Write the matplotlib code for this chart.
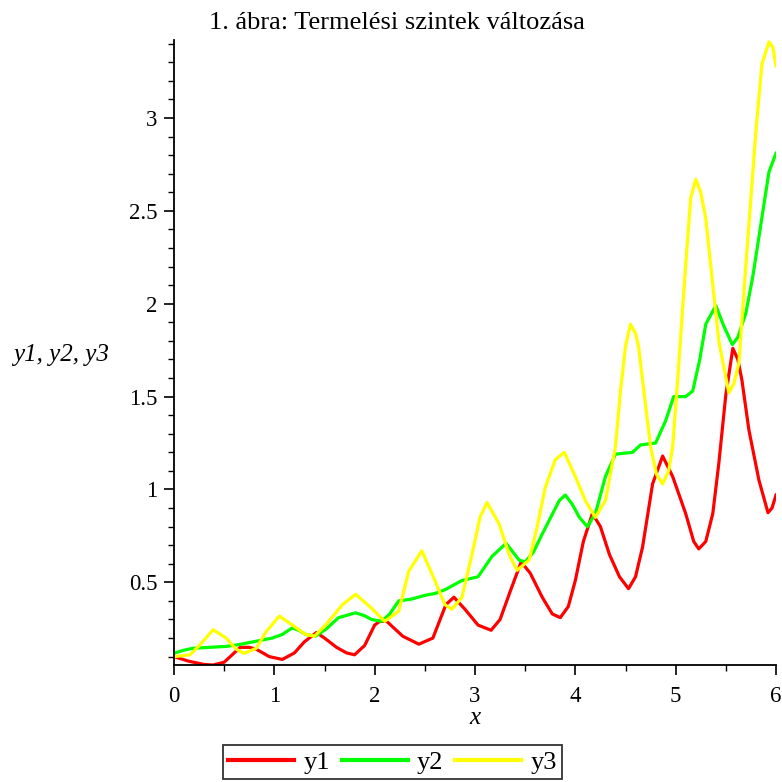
import numpy as np
import matplotlib
matplotlib.use("Agg")
import matplotlib.pyplot as plt
from matplotlib.ticker import MultipleLocator

# values
x_y1 = [0.00, 0.15, 0.30, 0.39, 0.50, 0.60, 0.66, 0.75, 0.82, 0.95, 1.08, 1.20, 1.30, 1.42,
        1.50, 1.62, 1.72, 1.80, 1.90, 2.00, 2.05, 2.12, 2.28, 2.44, 2.58, 2.71, 2.79, 2.90,
        3.03, 3.16, 3.25, 3.35, 3.46, 3.55, 3.67, 3.77, 3.85, 3.93, 4.00, 4.08, 4.17, 4.25,
        4.34, 4.44, 4.53, 4.60, 4.67, 4.77, 4.87, 4.97, 5.10, 5.18, 5.23, 5.30, 5.37, 5.43,
        5.50, 5.57, 5.62, 5.66, 5.73, 5.83, 5.92, 5.96, 6.00]
y1 = [0.10, 0.075, 0.058, 0.055, 0.07, 0.12, 0.15, 0.15, 0.14, 0.10, 0.085, 0.12, 0.18, 0.23,
      0.20, 0.15, 0.12, 0.11, 0.16, 0.27, 0.29, 0.29, 0.21, 0.167, 0.20, 0.38, 0.42, 0.355,
      0.27, 0.242, 0.30, 0.45, 0.61, 0.55, 0.42, 0.33, 0.31, 0.37, 0.51, 0.72, 0.87, 0.80,
      0.65, 0.53, 0.466, 0.53, 0.69, 1.03, 1.18, 1.07, 0.87, 0.72, 0.68, 0.72, 0.87, 1.14,
      1.51, 1.76, 1.70, 1.59, 1.32, 1.05, 0.875, 0.90, 0.97]

x_y2 = [0.00, 0.10, 0.19, 0.35, 0.52, 0.65, 0.79, 0.98, 1.08, 1.18, 1.25, 1.31, 1.41, 1.52,
        1.64, 1.81, 1.90, 1.97, 2.07, 2.15, 2.24, 2.37, 2.50, 2.60, 2.70, 2.87, 3.03, 3.17,
        3.31, 3.44, 3.50, 3.58, 3.67, 3.84, 3.90, 3.97, 4.04, 4.12, 4.20, 4.30, 4.40, 4.57,
        4.65, 4.80, 4.90, 4.98, 5.05, 5.10, 5.17, 5.24, 5.30, 5.40, 5.48, 5.565, 5.62, 5.70,
        5.77, 5.83, 5.93, 6.00]
y2 = [0.118, 0.135, 0.145, 0.15, 0.155, 0.165, 0.18, 0.20, 0.22, 0.255, 0.24, 0.22, 0.21, 0.25,
      0.31, 0.336, 0.32, 0.30, 0.29, 0.33, 0.40, 0.41, 0.43, 0.44, 0.46, 0.51, 0.53, 0.64,
      0.71, 0.62, 0.61, 0.66, 0.76, 0.94, 0.97, 0.92, 0.85, 0.80, 0.87, 1.07, 1.19, 1.20,
      1.24, 1.25, 1.37, 1.50, 1.50, 1.50, 1.53, 1.70, 1.89, 1.99, 1.88, 1.78, 1.82, 1.95,
      2.15, 2.36, 2.71, 2.81]

x_y3 = [0.00, 0.16, 0.26, 0.39, 0.52, 0.62, 0.70, 0.82, 0.92, 1.05, 1.18, 1.31, 1.40, 1.51,
        1.68, 1.81, 1.97, 2.10, 2.24, 2.34, 2.47, 2.60, 2.70, 2.77, 2.87, 2.97, 3.05, 3.12,
        3.24, 3.34, 3.42, 3.54, 3.62, 3.70, 3.80, 3.89, 4.00, 4.10, 4.20, 4.30, 4.40, 4.45,
        4.50, 4.55, 4.60, 4.63, 4.67, 4.75, 4.81, 4.87, 4.93, 4.97, 5.02, 5.10, 5.15, 5.20,
        5.25, 5.30, 5.37, 5.43, 5.53, 5.58, 5.63, 5.70, 5.80, 5.86, 5.93, 5.97, 6.00]
y3 = [0.10, 0.11, 0.164, 0.245, 0.20, 0.14, 0.118, 0.145, 0.236, 0.318, 0.27, 0.22, 0.21, 0.27,
      0.38, 0.436, 0.36, 0.29, 0.345, 0.56, 0.67, 0.51, 0.38, 0.355, 0.42, 0.65, 0.85, 0.93,
      0.815, 0.65, 0.565, 0.62, 0.80, 1.01, 1.16, 1.20, 1.07, 0.94, 0.85, 0.94, 1.23, 1.53,
      1.77, 1.89, 1.84, 1.77, 1.59, 1.23, 1.08, 1.03, 1.10, 1.23, 1.59, 2.21, 2.57, 2.67,
      2.60, 2.46, 2.10, 1.80, 1.52, 1.57, 1.68, 2.21, 2.93, 3.29, 3.41, 3.38, 3.28]

series = [(x_y1, y1, "y1", "#ff0000"),
          (x_y2, y2, "y2", "#00ff00"),
          (x_y3, y3, "y3", "#ffff00")]

title = "1. ábra: Termelési szintek változása"
serif = "Liberation Serif"

fig = plt.figure(figsize=(7.82, 7.82), dpi=100)
ax = fig.add_axes([174 / 782, 1 - 665 / 782, 602 / 782, 625 / 782])

for xs, ys, name, col in series:
    ax.plot(xs, ys, color=col, lw=2.3, label=name, solid_joinstyle="round")

ax.set_xlim(0, 6)
ax.set_ylim(0.055, 3.42)
for s in ["top", "right"]:
    ax.spines[s].set_visible(False)
for s in ["left", "bottom"]:
    ax.spines[s].set_linewidth(1.3)

ax.xaxis.set_major_locator(MultipleLocator(1))
ax.xaxis.set_minor_locator(MultipleLocator(0.5))
ax.set_yticks([0.5, 1, 1.5, 2, 2.5, 3])
ax.set_yticklabels(["0.5", "1", "1.5", "2", "2.5", "3"])
ax.yaxis.set_minor_locator(MultipleLocator(0.1))
ax.tick_params(which="major", direction="out", length=7, width=1.2, labelsize=16.5)
ax.tick_params(axis="y", which="major", pad=5)
ax.tick_params(axis="x", which="major", pad=8)
ax.tick_params(which="minor", direction="out", length=4.5, width=1.0)
for lab in ax.get_xticklabels() + ax.get_yticklabels():
    lab.set_fontfamily(serif)

fig.text(397 / 782, 1 - 23 / 782, title, ha="center", va="center",
         fontsize=19, fontfamily=serif)
fig.text(61 / 782, 1 - 355 / 782, "y1, y2, y3", ha="center", va="center",
         fontsize=18, fontfamily=serif, style="italic")
fig.text(475 / 782, 1 - 718 / 782, "x", ha="center", va="center",
         fontsize=18, fontfamily=serif, style="italic")

leg = fig.legend(loc="upper center", bbox_to_anchor=(392.5 / 782, 1 - 745 / 782),
                 ncol=3, frameon=True, fancybox=False, handlelength=2.5,
                 handletextpad=0.35, columnspacing=0.45, borderpad=0.2,
                 borderaxespad=0, prop={"family": serif, "size": 19})
leg.get_frame().set_edgecolor("black")
leg.get_frame().set_linewidth(1.3)
for h in leg.get_lines():
    h.set_linewidth(3)

fig.savefig("out.png", dpi=100)
